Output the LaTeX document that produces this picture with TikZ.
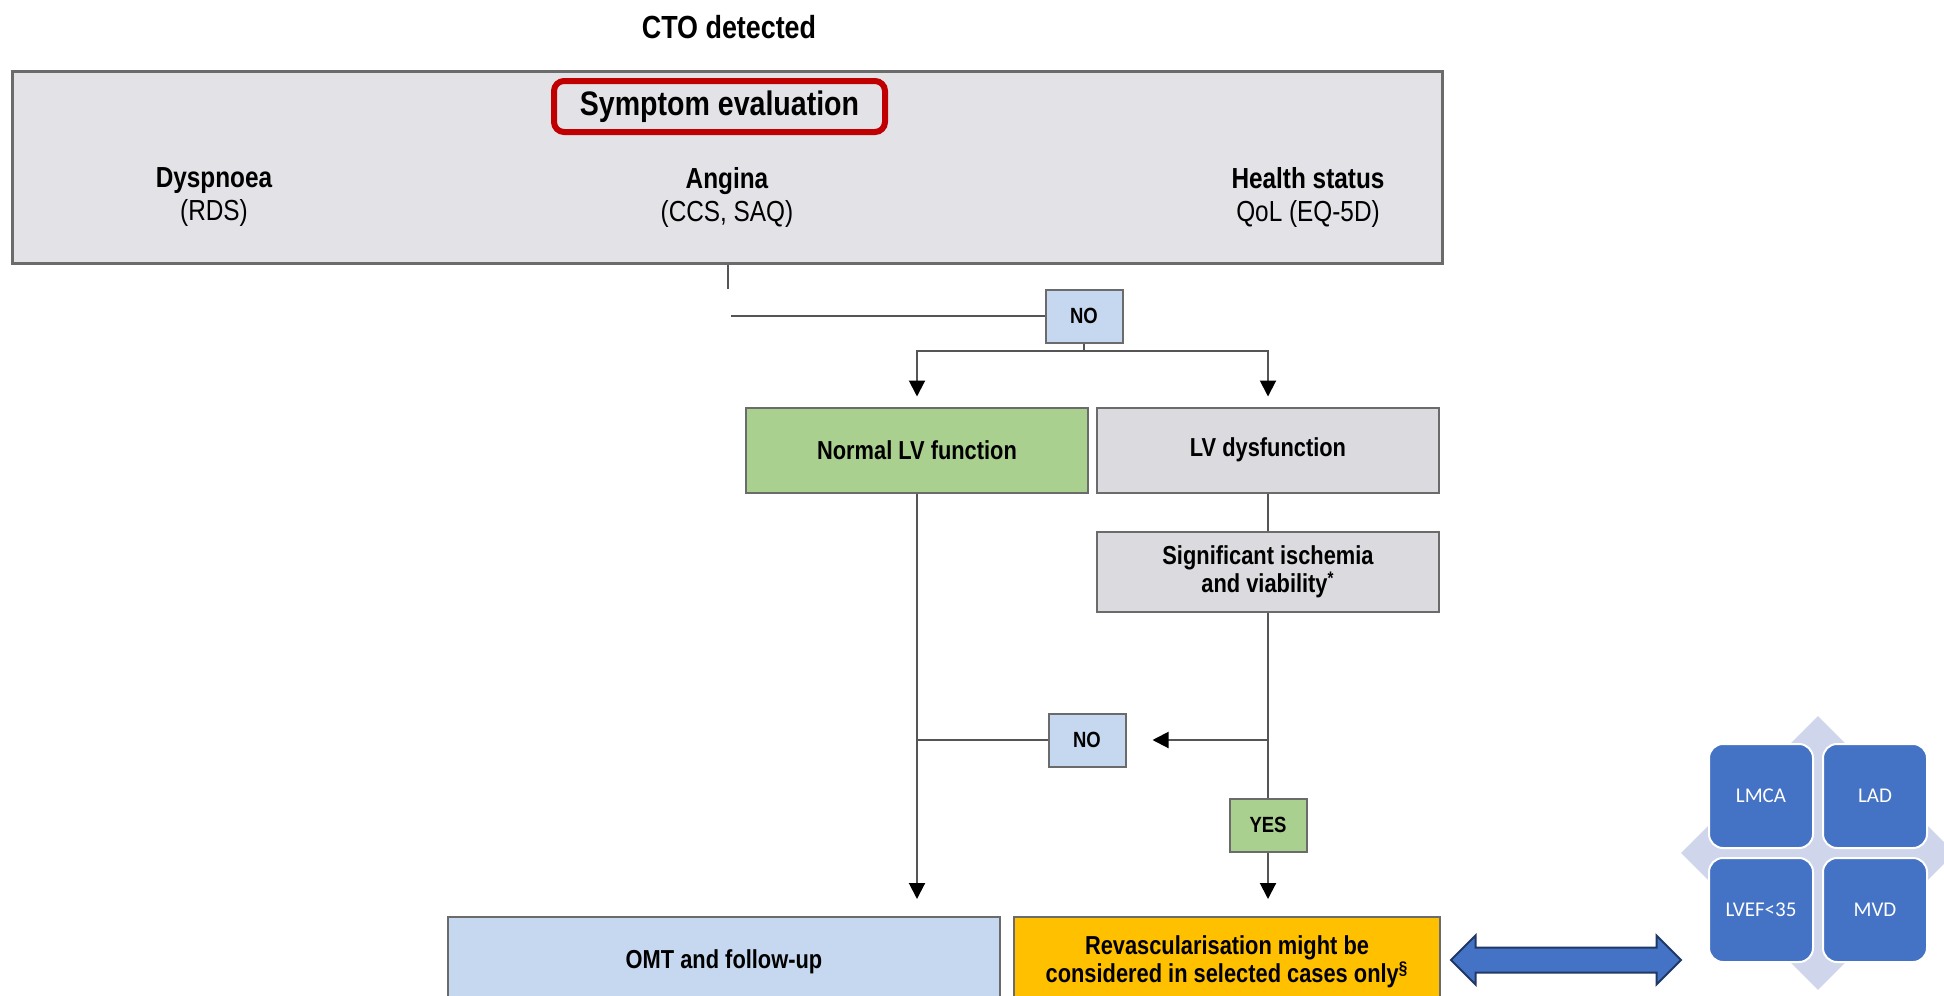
\documentclass[tikz,border=0pt]{standalone}
\usepackage{fontspec}
\setmainfont{Liberation Sans}
\newfontfamily\narrowfont{Liberation Sans}[FakeStretch=0.84]
\newfontfamily\smartfont{Carlito}
\usetikzlibrary{positioning,shapes,arrows.meta}

\definecolor{panelgray}{HTML}{E3E3E7}
\definecolor{boxgray}{HTML}{DADADF}
\definecolor{boxline}{HTML}{6B6B6B}
\definecolor{paleblue}{HTML}{C6D8F0}
\definecolor{okgreen}{HTML}{A9D08E}
\definecolor{revorange}{HTML}{FFC000}
\definecolor{alertred}{HTML}{C00000}
\definecolor{cellblue}{HTML}{4472C4}
\definecolor{arrowline}{HTML}{1F3864}
\definecolor{lavender}{HTML}{CFD5EA}
\definecolor{wire}{HTML}{555555}

\begin{document}
\begin{tikzpicture}[x=0.5pt,y=-0.5pt,
every node/.style={inner sep=0pt, align=center},
box/.style={draw=boxline, line width=1pt, font=\narrowfont\bfseries\fontsize{13}{14}\selectfont},
tag/.style={box, fill=paleblue, minimum width=38.5pt, minimum height=26.5pt, font=\narrowfont\bfseries\fontsize{11}{12}\selectfont},
headtext/.style={font=\narrowfont\bfseries\fontsize{14.5}{16.5}\selectfont},
cell/.style={fill=cellblue, draw=white, line width=1pt, rounded corners=7pt, minimum size=52pt, text=white, font=\smartfont\fontsize{10.5}{12}\selectfont},
wireline/.style={draw=wire, line width=1pt},
arr/.style={wireline, -{Triangle[width=8pt,length=8pt,black]}, shorten >=5pt}]

\clip (0,0) rectangle (1944,996);
\fill[white] (0,0) rectangle (1944,996);

% symptom panel
\node[font=\narrowfont\bfseries\fontsize{16}{18}\selectfont] (cto) at (729,27) {CTO detected};
\node[draw=boxline, line width=1.5pt, fill=panelgray, minimum width=715pt, minimum height=96pt] (symp) at (727,167) {};
\node[draw=alertred, line width=3pt, rounded corners=5pt, minimum width=165.5pt, minimum height=25.5pt, font=\narrowfont\bfseries\fontsize{17}{19}\selectfont] (eval) at (719.5,106.5) {Symptom evaluation};
\node[headtext] (dysp) at (214,197) {Dyspnoea\\\mdseries(RDS)};
\node[headtext] (angina) at (727,197) {Angina\\\mdseries(CCS, SAQ)};
\node[headtext] (health) at (1308,197) {Health status\\\mdseries QoL (EQ-5D)};

% LV branch
\node[tag] (no1) at (1084,316) {NO};
\node[box, fill=okgreen, minimum width=171pt, minimum height=42.5pt] (normlv) at (917,450) {Normal LV function};
\node[box, fill=boxgray, minimum width=171pt, minimum height=42.5pt] (lvdys) at (1268,450) {LV dysfunction};
\node[box, fill=boxgray, minimum width=171pt, minimum height=40pt] (sig) at (1268,572) {Significant ischemia\\and viability\textsuperscript{*}};
\node[tag] (no2) at (1087,740) {NO};
\node[tag, fill=okgreen] (yes) at (1268,825) {YES};

% outcomes
\node[box, fill=paleblue, minimum width=276pt, minimum height=45pt] (omt) at (724,962) {OMT and follow-up};
\node[box, fill=revorange, minimum width=213pt, minimum height=45pt] (revasc) at (1227,962) {Revascularisation might be\\considered in selected cases only\textsuperscript{§}};

% criteria matrix
\node[double arrow, fill=cellblue, draw=arrowline, line width=1pt, inner ysep=5.75pt, minimum height=115pt, minimum width=23.5pt, double arrow head extend=6pt] (link) at (1566,960) {};
\node[diamond, fill=lavender, minimum width=137pt, minimum height=137pt, aspect=1] (matrix) at (1818,853) {};
\node[cell] (lmca) at (1761,796) {LMCA};
\node[cell] (lad) at (1875,796) {LAD};
\node[cell] (lvef) at (1761,910) {LVEF<35};
\node[cell] (mvd) at (1875,910) {MVD};

% connectors
\coordinate (gapend) at (728,289);
\coordinate (wirestart) at (731,316);
\coordinate (split) at (1086,351);
\draw[wireline] (symp.south -| gapend) -- (gapend);
\draw[wireline] (wirestart) -- (no1.west);
\draw[wireline] (no1.south) -- (no1.south |- split);
\draw[arr] (split) -| (normlv.north);
\draw[arr] (split) -| (lvdys.north);
\draw[wireline] (lvdys.south) -- (sig.north);
\draw[wireline] (sig.south) -- (yes.north);
\draw[arr, shorten >=13pt] (sig.south |- no2.east) -- (no2.east);
\draw[wireline] (no2.west) -- (normlv.south |- no2.west);
\draw[arr, shorten >=8.5pt] (normlv.south) -- (normlv.south |- omt.north);
\draw[arr, shorten >=8.5pt] (yes.south) -- (yes.south |- revasc.north);
\end{tikzpicture}
\end{document}
